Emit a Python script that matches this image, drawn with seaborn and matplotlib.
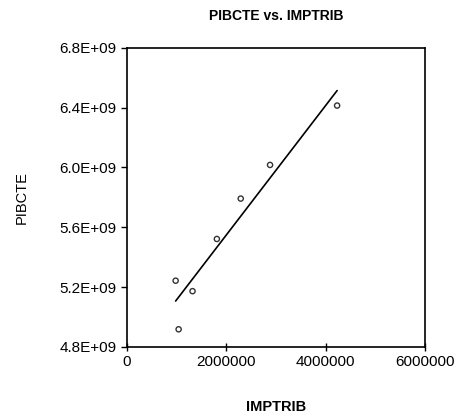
import matplotlib
matplotlib.use("Agg")
import matplotlib.pyplot as plt
import seaborn as sns
import pandas as pd
from matplotlib.ticker import FuncFormatter

imptrib = [980000, 1040000, 1320000, 1810000, 2290000, 2880000, 4230000]
pibcte = [5.243e9, 4.918e9, 5.173e9, 5.522e9, 5.792e9, 6.017e9, 6.414e9]
x_ticks = [0, 2000000, 4000000, 6000000]
y_ticks = [4.8e9, 5.2e9, 5.6e9, 6.0e9, 6.4e9, 6.8e9]

df = pd.DataFrame({"IMPTRIB": imptrib, "PIBCTE": pibcte})

sns.set_style("ticks")
plt.rcParams["font.family"] = ["Liberation Sans", "DejaVu Sans"]
plt.rcParams["text.color"] = "black"
plt.rcParams["axes.labelcolor"] = "black"

fig = plt.figure(figsize=(4.6, 4.16), dpi=100)
ax = fig.add_axes([0.276, 0.166, 0.648, 0.719])

sns.regplot(data=df, x="IMPTRIB", y="PIBCTE", ax=ax, ci=None,
            scatter_kws=dict(facecolors="none", edgecolors="black", s=14, linewidths=1.0),
            line_kws=dict(color="black", linewidth=1.2), color="black")

ax.set_xlim(0, 6000000)
ax.set_ylim(4.8e9, 6.8e9)
ax.set_xticks(x_ticks)
ax.set_yticks(y_ticks)
ax.xaxis.set_major_formatter(FuncFormatter(lambda v, p: f"{int(v)}"))
ax.yaxis.set_major_formatter(FuncFormatter(lambda v, p: f"{v/1e9:.1f}E+09"))
ax.tick_params(axis="both", labelsize=11, length=4, width=1, color="black", labelcolor="black")
ax.tick_params(axis="x", direction="inout", length=6, pad=3)
for s in ax.spines.values():
    s.set_visible(True)
    s.set_color("black")
    s.set_linewidth(1.2)

ax.set_title("PIBCTE vs. IMPTRIB", fontsize=10, fontweight="bold", pad=20, color="black")
ax.set_xlabel("IMPTRIB", fontsize=10.5, fontweight="bold", labelpad=22, color="black")
ax.set_ylabel("PIBCTE", fontsize=10.5, labelpad=22, color="black")

fig.savefig("out.png", dpi=100, facecolor="white")
